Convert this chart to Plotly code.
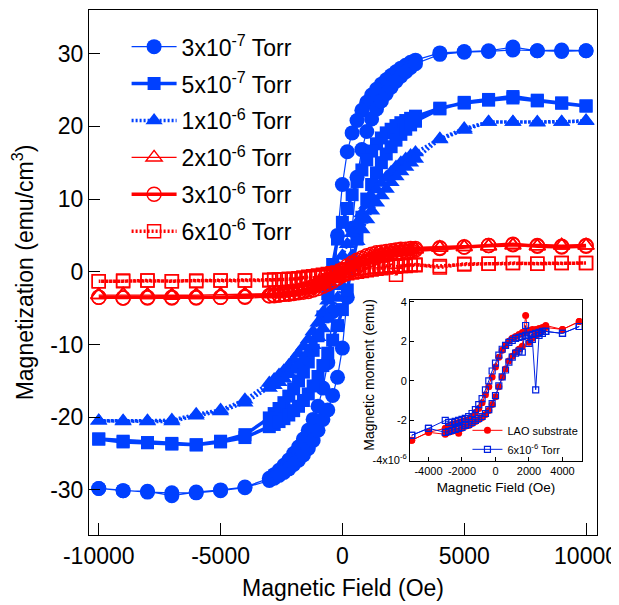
import plotly.graph_objects as go

# ---------------- main data (Magnetization vs field, full hysteresis loops) ----------------
H_DOWN = [10000, 9000, 8000, 7000, 6000, 5000, 4000, 3000, 2800, 2600, 2400, 2200, 2000, 1800,
          1600, 1400, 1200, 1000, 800, 600, 400, 200, 0, -200, -400, -600, -800, -1000, -1200,
          -1400, -1600, -1800, -2000, -2200, -2400, -2600, -2800, -3000, -4000, -5000, -6000,
          -7000, -8000, -9000, -10000]
H_UP = [-10000, -9000, -8000, -7000, -6000, -5000, -4000, -3000, -2800, -2600, -2400, -2200,
        -2000, -1800, -1600, -1400, -1200, -1000, -800, -600, -400, -200, 0, 200, 400, 600, 800,
        1000, 1200, 1400, 1600, 1800, 2000, 2200, 2400, 2600, 2800, 3000, 4000, 5000, 6000, 7000,
        8000, 9000, 10000]

# 3x10^-7 Torr
M1_DOWN = [30.4, 30.5, 30.4, 30.9, 30.4, 30.3, 30.1, 29.1, 28.8, 28.4, 28.0, 27.5, 27.0, 26.4,
           25.8, 25.1, 24.3, 23.3, 22.2, 20.8, 19.1, 16.5, 12.0, 5.0, -5.5, -12.5, -16.0, -18.5,
           -20.3, -21.8, -23.0, -24.1, -25.0, -25.9, -26.6, -27.3, -27.9, -28.4, -29.6, -30.0,
           -30.3, -30.8, -30.2, -30.1, -29.8]
M1_UP = [-29.8, -30.1, -30.3, -30.4, -30.4, -30.1, -29.7, -28.7, -28.4, -28.0, -27.6, -27.1,
         -26.5, -25.9, -25.2, -24.3, -23.2, -21.8, -20.3, -19.0, -17.0, -14.5, -10.5, -3.5, 6.0,
         13.0, 16.8, 19.3, 21.0, 22.4, 23.5, 24.5, 25.4, 26.2, 26.9, 27.5, 28.1, 28.6, 29.9,
         30.2, 30.3, 30.5, 30.4, 30.3, 30.4]

# 5x10^-7 Torr
M2_DOWN = [22.8, 23.2, 23.5, 23.9, 23.6, 23.2, 22.5, 21.4, 21.1, 20.8, 20.5, 20.1, 19.6, 19.1,
           18.4, 17.6, 16.6, 15.4, 14.0, 12.4, 10.6, 8.7, 6.8, 4.5, 1.0, -3.0, -6.2, -8.8, -10.8,
           -12.4, -13.8, -15.0, -16.1, -17.1, -18.0, -18.8, -19.5, -20.1, -22.4, -23.3, -23.8,
           -23.6, -23.5, -23.3, -23.0]
M2_UP = [-23.0, -23.4, -23.5, -23.7, -23.8, -23.4, -22.8, -21.3, -21.0, -20.6, -20.2, -19.7,
         -19.1, -18.5, -17.7, -16.8, -15.7, -14.4, -12.9, -11.2, -9.4, -7.4, -5.2, -2.5, 1.0, 4.5,
         7.5, 10.0, 12.0, 13.6, 15.0, 16.2, 17.2, 18.1, 18.9, 19.6, 20.2, 20.7, 22.4, 23.3, 23.7,
         24.1, 23.6, 23.2, 22.8]

# 1x10^-6 Torr
M3_DOWN = [20.7, 20.6, 20.6, 20.6, 20.6, 19.7, 18.3, 16.4, 16.0, 15.5, 15.0, 14.4, 13.7, 13.0,
           12.2, 11.3, 10.3, 9.2, 8.0, 6.7, 5.3, 3.8, 2.2, 0.3, -2.0, -4.0, -5.6, -7.0, -8.2,
           -9.3, -10.3, -11.2, -12.1, -12.9, -13.6, -14.2, -14.8, -15.3, -17.6, -19.0, -19.6,
           -20.4, -20.5, -20.5, -20.5]
M3_UP = [-20.5, -20.6, -20.6, -20.6, -19.8, -19.2, -18.0, -16.0, -15.6, -15.2, -14.7, -14.1,
         -13.5, -12.8, -12.0, -11.1, -10.1, -9.0, -7.8, -6.5, -5.1, -3.6, -2.0, 0.0, 2.2, 4.2,
         5.8, 7.2, 8.4, 9.5, 10.5, 11.4, 12.3, 13.1, 13.8, 14.4, 15.0, 15.5, 18.2, 19.5, 20.6,
         20.6, 20.5, 20.6, 20.8]

# 2x10^-6 Torr
M4_DOWN = [3.6, 3.6, 3.5, 3.7, 3.5, 3.4, 3.3, 3.1, 3.0, 2.9, 2.8, 2.7, 2.6, 2.5, 2.3, 2.1, 1.9,
           1.6, 1.3, 1.0, 0.6, 0.2, -0.2, -0.6, -1.0, -1.4, -1.7, -2.0, -2.2, -2.4, -2.5, -2.6,
           -2.7, -2.8, -2.9, -2.9, -3.0, -3.0, -3.1, -3.1, -3.2, -3.2, -3.2, -3.1, -3.2]
M4_UP = [-3.2, -3.2, -3.2, -3.3, -3.2, -3.2, -3.1, -3.1, -3.0, -3.0, -2.9, -2.8, -2.7, -2.6,
         -2.4, -2.2, -2.0, -1.7, -1.4, -1.0, -0.6, -0.2, 0.3, 0.7, 1.1, 1.5, 1.8, 2.1, 2.3, 2.5,
         2.6, 2.7, 2.8, 2.9, 3.0, 3.0, 3.1, 3.1, 3.3, 3.4, 3.5, 3.6, 3.5, 3.6, 3.6]

# 3x10^-6 Torr
M5_DOWN = [3.5, 3.4, 3.5, 3.8, 3.6, 3.4, 3.2, 3.0, 2.9, 2.8, 2.7, 2.6, 2.5, 2.3, 2.2, 2.0, 1.7,
           1.4, 1.1, 0.7, 0.3, -0.1, -0.5, -0.9, -1.3, -1.7, -2.0, -2.3, -2.5, -2.7, -2.8, -2.9,
           -3.0, -3.1, -3.1, -3.2, -3.2, -3.3, -3.5, -3.5, -3.6, -3.6, -3.5, -3.6, -3.5]
M5_UP = [-3.5, -3.6, -3.6, -3.5, -3.5, -3.5, -3.4, -3.3, -3.3, -3.2, -3.1, -3.0, -2.9, -2.8,
         -2.6, -2.4, -2.1, -1.8, -1.5, -1.1, -0.6, -0.2, 0.3, 0.8, 1.2, 1.6, 1.9, 2.2, 2.4, 2.6,
         2.7, 2.8, 2.9, 3.0, 3.1, 3.1, 3.2, 3.2, 3.3, 3.4, 3.6, 3.7, 3.6, 3.5, 3.6]

# 6x10^-6 Torr
M6_DOWN = [1.2, 1.2, 1.1, 1.2, 1.1, 1.0, 0.8, 0.9, 0.9, 0.8, 0.8, 0.7, 0.7, 0.6, 0.5, 0.4, 0.3,
           0.2, 0.1, 0.0, -0.1, -0.2, -0.3, -0.4, -0.5, -0.6, -0.7, -0.8, -0.8, -0.9, -0.9, -1.0,
           -1.0, -1.0, -1.1, -1.1, -1.1, -1.1, -1.2, -1.2, -1.2, -1.3, -1.2, -1.3, -1.3]
M6_UP = [-1.3, -1.2, -1.2, -1.3, -1.3, -1.2, -1.2, -1.2, -1.1, -1.1, -1.1, -1.0, -1.0, -0.9,
         -0.8, -0.7, -0.6, -0.5, -0.4, -0.3, -0.2, -0.1, 0.1, 0.2, 0.3, 0.4, 0.5, 0.6, 0.7, 0.7,
         0.8, 0.8, 0.9, -0.4, 0.9, 0.9, 1.0, 1.0, 0.6, 1.1, 1.1, 1.2, 1.1, 1.2, 1.2]

LABELS = ["3x10<sup>-7</sup> Torr", "5x10<sup>-7</sup> Torr", "1x10<sup>-6</sup> Torr",
          "2x10<sup>-6</sup> Torr", "3x10<sup>-6</sup> Torr", "6x10<sup>-6</sup> Torr"]

X_TICKS = [-10000, -5000, 0, 5000, 10000]
X_TICKTEXT = ["-10000", "-5000", "0", "5000", "10000"]
Y_TICKS = [-30, -20, -10, 0, 10, 20, 30]
Y_TICKTEXT = ["-30", "-20", "-10", "0", "10", "20", "30"]

# ---------------- inset data (magnetic moment, x10^-6 emu) ----------------
HI_DOWN = [5000, 4000, 3000, 2800, 2600, 2400, 2200, 2000, 1800, 1600, 1400, 1200, 1000, 800,
           600, 400, 200, 0, -200, -400, -600, -800, -1000, -1200, -1400, -1600, -1800, -2000,
           -2200, -2400, -2600, -2800, -3000, -4000, -5000]
HI_UP = [-5000, -4000, -3000, -2800, -2600, -2400, -2200, -2000, -1800, -1600, -1400, -1200,
         -1000, -800, -600, -400, -200, 0, 200, 400, 600, 800, 1000, 1200, 1400, 1600, 1800,
         2000, 2200, 2400, 2600, 2800, 3000, 4000, 5000]
LAO_DOWN = [3.0, 2.6, 2.8, 2.7, 2.65, 2.6, 2.6, 2.55, 2.5, 2.45, 2.35, 2.25, 2.15, 2.0, 1.8,
            1.55, 1.2, 0.7, 0.2, -0.3, -0.7, -1.1, -1.4, -1.6, -1.8, -1.95, -2.0, -2.05, -2.1,
            -2.15, -2.2, -2.3, -2.4, -2.6, -3.0]
LAO_UP = [-3.0, -2.6, -2.7, -2.6, -2.55, -2.5, -2.65, -2.4, -2.3, -2.25, -2.15, -2.05, -1.95,
          -1.85, -1.7, -1.5, -1.2, -0.8, -0.3, 0.2, 0.6, 1.0, 1.25, 1.45, 1.6, 1.75, 3.3, 1.95,
          2.15, 2.3, 2.45, 2.55, 2.7, 2.6, 3.0]
S6_DOWN = [2.75, 2.4, 2.5, 2.5, 2.45, 2.4, 2.35, 2.3, 2.3, 2.25, 2.2, 2.15, 2.05, 1.95, 1.8,
           1.6, 1.3, 0.9, 0.5, 0.0, -0.45, -0.9, -1.2, -1.45, -1.65, -1.8, -1.9, -1.95, -2.0,
           -2.05, -2.1, -2.1, -2.0, -2.4, -2.75]
S6_UP = [-2.75, -2.4, -2.6, -2.55, -2.5, -2.45, -2.4, -2.35, -2.25, -2.2, -2.1, -2.0, -1.9,
         -1.8, -1.65, -1.45, -1.15, -0.75, -0.25, 0.2, 0.55, 0.95, 1.2, 1.4, 1.5, 1.45, 2.8, 1.9,
         2.1, -0.45, 2.3, 2.4, 2.5, 2.4, 2.75]
INSET_XTICKS = [-4000, -2000, 0, 2000, 4000]
INSET_XTEXT = ["-4000", "-2000", "0", "2000", "4000"]
INSET_YTICKS = [-4, -2, 0, 2, 4]
INSET_YTEXT = ["-4x10<sup>-6</sup>", "-2", "0", "2", "4"]

BLUE = "#0040FF"
RED = "#FF0000"
FONT = "Liberation Sans, Arial, sans-serif"

series = [
    (M1_DOWN, M1_UP, dict(color=BLUE, width=1.2), dict(symbol="circle", size=15, color=BLUE)),
    (M2_DOWN, M2_UP, dict(color=BLUE, width=3.5), dict(symbol="square", size=13, color=BLUE)),
    (M3_DOWN, M3_UP, dict(color=BLUE, width=3.5, dash="2px,2px"),
     dict(symbol="triangle-up", size=15, color=BLUE)),
    (M4_DOWN, M4_UP, dict(color=RED, width=1.2),
     dict(symbol="triangle-up-open", size=14, color=RED, line=dict(width=1.5, color=RED))),
    (M5_DOWN, M5_UP, dict(color=RED, width=3.5),
     dict(symbol="circle-open", size=14, color=RED, line=dict(width=1.5, color=RED))),
    (M6_DOWN, M6_UP, dict(color=RED, width=3.5, dash="2px,2px"),
     dict(symbol="square-open", size=13, color=RED, line=dict(width=1.5, color=RED))),
]

fig = go.Figure()
for i, (down, up, line, marker) in enumerate(series):
    fig.add_trace(go.Scatter(
        x=H_DOWN + H_UP, y=down + up, mode="lines+markers", name=LABELS[i],
        line=line, marker=marker, legend="legend", legendgroup=f"g{i}",
        xaxis="x", yaxis="y"))

fig.add_trace(go.Scatter(
    x=HI_DOWN + HI_UP, y=LAO_DOWN + LAO_UP, mode="lines+markers", name="LAO substrate",
    line=dict(color=RED, width=1), marker=dict(symbol="circle", size=7, color=RED),
    xaxis="x2", yaxis="y2", legend="legend2"))
fig.add_trace(go.Scatter(
    x=HI_DOWN + HI_UP, y=S6_DOWN + S6_UP, mode="lines+markers", name="6x10<sup>-6</sup> Torr",
    line=dict(color="#0020E0", width=1),
    marker=dict(symbol="square-open", size=6, color="#0020E0", line=dict(width=1.2)),
    xaxis="x2", yaxis="y2", legend="legend2"))

axis_common = dict(showline=True, linecolor="black", linewidth=1, mirror=True, showgrid=False,
                   zeroline=False, ticks="inside", tickcolor="black", automargin=False)

# the page body adds an 8px offset, so the figure is 8px smaller and its margins shifted
fig.update_layout(
    width=611, height=597,
    margin=dict(l=81, r=22, t=2, b=70),
    paper_bgcolor="white", plot_bgcolor="white",
    font=dict(family=FONT, color="black"),
    xaxis=dict(**axis_common, domain=[0, 1], range=[-10400, 10450],
               tickvals=X_TICKS, ticktext=X_TICKTEXT, ticklen=12, tickangle=0,
               tickfont=dict(size=23),
               title=dict(text="Magnetic Field (Oe)", font=dict(size=23), standoff=12)),
    yaxis=dict(**axis_common, domain=[0, 1], range=[-36.2, 36.0],
               tickvals=Y_TICKS, ticktext=Y_TICKTEXT, ticklen=11,
               tickfont=dict(size=23),
               title=dict(text="Magnetization (emu/cm<sup>3</sup>)", font=dict(size=23),
                          standoff=10)),
    xaxis2=dict(**axis_common, domain=[0.632, 0.970], anchor="y2", range=[-5100, 5150],
                tickvals=INSET_XTICKS, ticktext=INSET_XTEXT, ticklen=4, tickangle=0,
                tickfont=dict(size=11),
                title=dict(text="Magnetic Field (Oe)", font=dict(size=13.5), standoff=6)),
    yaxis2=dict(**axis_common, domain=[0.141, 0.448], anchor="x2", range=[-4.05, 4.1],
                tickvals=INSET_YTICKS, ticktext=INSET_YTEXT, ticklen=4,
                tickfont=dict(size=11)),
    annotations=[dict(text="Magnetic moment (emu)", textangle=-90, x=0.551, y=0.305,
                      xref="paper", yref="paper", xanchor="center", yanchor="middle",
                      showarrow=False, font=dict(size=14, family=FONT, color="black"))],
    legend=dict(x=0.074, y=0.971, xanchor="left", yanchor="top", bgcolor="rgba(0,0,0,0)",
                font=dict(size=23), tracegroupgap=4, itemsizing="trace", itemwidth=45),
    legend2=dict(x=0.745, y=0.227, xanchor="left", yanchor="top", bgcolor="rgba(0,0,0,0)",
                 font=dict(size=11), tracegroupgap=0, itemsizing="trace"),
)

fig.write_html("out.html")
